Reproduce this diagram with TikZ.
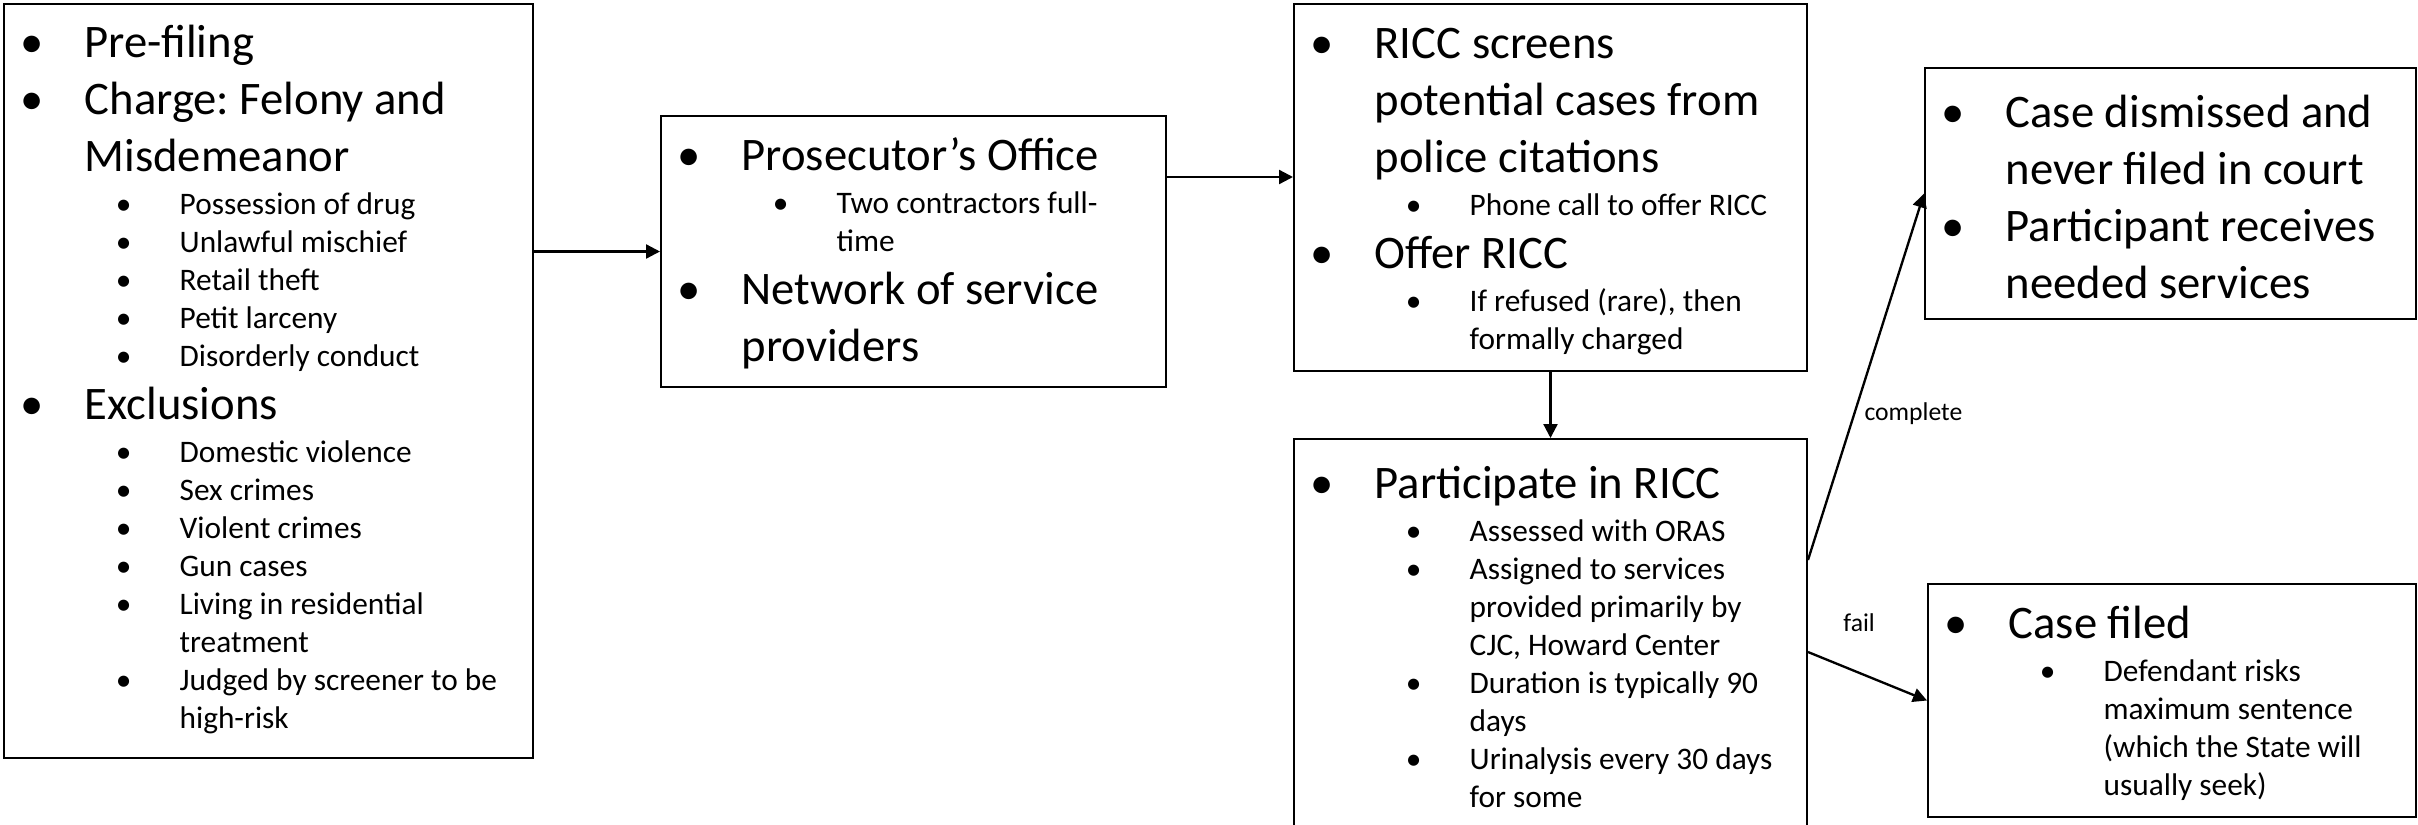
\documentclass[tikz,border=0pt]{standalone}
\usepackage{fontspec}
\setmainfont{Carlito}
\usetikzlibrary{calc,arrows.meta}
\setlength{\parskip}{0pt}
\frenchspacing

% bullet levels
\newlength{\bigind}\setlength{\bigind}{24.3pt}
\newlength{\smallind}\setlength{\smallind}{52.8pt}
\newif\ifprevsmall
\newcommand{\bigitem}[1]{\par\ifprevsmall\vspace{-1.1pt}\fi\prevsmallfalse
  \fontsize{14}{17.1}\selectfont\hangindent=\bigind\hangafter=1
  \noindent\makebox[\bigind][l]{\makebox[16.8pt]{\textbullet}}#1\par}
\newcommand{\smallitem}[1]{\par\ifprevsmall\else\vspace{1.6pt}\fi\prevsmalltrue
  \fontsize{9.4}{11.4}\selectfont\hangindent=\smallind\hangafter=1
  \noindent\makebox[\smallind][l]{\hspace{28.8pt}\makebox[14.4pt]{\textbullet}}#1\par}
\newcommand{\itemblock}[2]{\parbox[t]{#1}{#2}}

\begin{document}
\begin{tikzpicture}[x=0.3pt, y=-0.3pt,
  box/.style={draw, line width=0.6pt, anchor=north west, inner sep=0pt},
  sz/.style 2 args={minimum width=#1*0.3pt, minimum height=#2*0.3pt},
  listtext/.style={anchor=base west, inner sep=0pt},
  arr/.style={-{Triangle[length=4.2pt,width=4.2pt]}, line width=0.7pt},
  lbl/.style={font=\fontsize{7.7}{9}\selectfont, inner sep=0pt}]
\useasboundingbox (0,0) rectangle (2418,824);
\clip (0,0) rectangle (2418,824);

% Boxes
\node[box, sz={529}{754}] (pre) at (3,3) {};
\node[box, sz={505}{271}] (office) at (660,115) {};
\node[box, sz={513}{367}] (screen) at (1293,3) {};
\node[box, sz={513}{420}] (part) at (1293,438) {};
\node[box, sz={491}{251}] (dismiss) at (1924,67) {};
\node[box, sz={488}{233}] (filed) at (1927,583) {};

% Pre-filing
\node[listtext] (pre-list) at ($(pre.north west)+(0,54)$) {\itemblock{156pt}{%
  \bigitem{Pre-filing}
  \bigitem{Charge: Felony and\newline Misdemeanor}
  \smallitem{Possession of drug}
  \smallitem{Unlawful mischief}
  \smallitem{Retail theft}
  \smallitem{Petit larceny}
  \smallitem{Disorderly conduct}
  \bigitem{Exclusions}
  \smallitem{Domestic violence}
  \smallitem{Sex crimes}
  \smallitem{Violent crimes}
  \smallitem{Gun cases}
  \smallitem{Living in residential\newline treatment}
  \smallitem{Judged by screener to be\newline high-risk}}};

% Prosecutor
\node[listtext] (office-list) at ($(office.north west)+(0,55)$) {\itemblock{150pt}{%
  \bigitem{Prosecutor’s Office}
  \smallitem{Two contractors full-\newline time}
  \bigitem{Network of service\newline providers}}};

% Screening
\node[listtext] (screen-list) at ($(screen.north west)+(0,55)$) {\itemblock{152pt}{%
  \bigitem{RICC screens\newline potential cases from\newline police citations}
  \smallitem{Phone call to offer RICC}
  \bigitem{Offer RICC}
  \smallitem{If refused (rare), then\newline formally charged}}};

% Participation
\node[listtext] (part-list) at ($(part.north west)+(0,60)$) {\itemblock{152pt}{%
  \bigitem{Participate in RICC}
  \smallitem{Assessed with ORAS}
  \smallitem{Assigned to services\newline provided primarily by\newline CJC, Howard Center}
  \smallitem{Duration is typically 90\newline days}
  \smallitem{Urinalysis every 30 days\newline for some}}};

% Outcomes
\node[listtext] (dismiss-list) at ($(dismiss.north west)+(0,60)$) {\itemblock{146pt}{%
  \bigitem{Case dismissed and\newline never filed in court}
  \bigitem{Participant receives\newline needed services}}};
\node[listtext] (filed-list) at ($(filed.north west)+(0,55)$) {\itemblock{145pt}{%
  \bigitem{Case filed}
  \smallitem{Defendant risks\newline maximum sentence\newline (which the State will\newline usually seek)}}};

% Connectors
\coordinate (o2s) at ($(office.north east)+(0,62)$);
\draw[arr] (pre.east |- office.west) -- (office.west);
\draw[arr] (o2s) -- (o2s -| screen.west);
\draw[arr] (screen.south) -- (part.north);
\draw[arr] ($(part.north east)+(0,122)$) -- (dismiss.west)
  node[lbl, pos=0.4, xshift=17.7pt] (complete-lbl) {complete};
\draw[arr] ($(part.north east)+(0,214)$) -- (filed.west)
  node[lbl, pos=0.43, yshift=15pt] (fail-lbl) {fail};
\end{tikzpicture}
\end{document}
